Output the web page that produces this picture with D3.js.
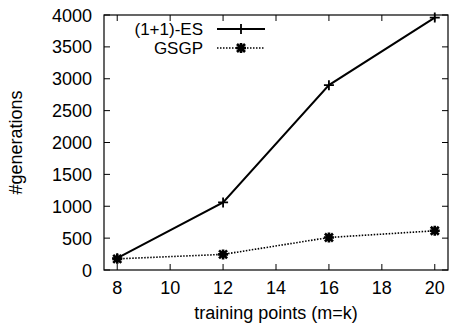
<!DOCTYPE html>
<html>
<head>
<meta charset="utf-8">
<script src="https://cdn.jsdelivr.net/npm/d3@7"></script>
<style>
  body { margin: 0; background: #fff; }
  text { font-family: "Liberation Sans", Arial, sans-serif; fill: #000; }
</style>
</head>
<body>
<svg id="chart" width="449" height="326"></svg>
<script>
// data
const trainingPoints = [8, 12, 16, 20];
const esGenerations = [185, 1060, 2900, 3960];
const gsgpGenerations = [175, 245, 510, 615];
const xTicks = [8, 10, 12, 14, 16, 18, 20];
const yTicks = [0, 500, 1000, 1500, 2000, 2500, 3000, 3500, 4000];

const plotL = 104, plotR = 448, plotT = 15, plotB = 270;
const fontSize = 18;

const svg = d3.select("#chart");

const x = d3.scaleLinear().domain([7.5, 20.5]).range([plotL, plotR]);
const y = d3.scaleLinear().domain([0, 4000]).range([plotB, plotT]);

// frame
svg.append("rect")
    .attr("x", plotL).attr("y", plotT)
    .attr("width", plotR - plotL).attr("height", plotB - plotT)
    .attr("fill", "none").attr("stroke", "#000").attr("stroke-width", 1.2);

// ticks, inward on all four sides
const tickLen = 6;
const ax = svg.append("g").attr("stroke", "#000").attr("stroke-width", 1);
xTicks.forEach(t => {
  ax.append("line").attr("x1", x(t)).attr("x2", x(t)).attr("y1", plotB).attr("y2", plotB - tickLen);
  ax.append("line").attr("x1", x(t)).attr("x2", x(t)).attr("y1", plotT).attr("y2", plotT + tickLen);
});
yTicks.forEach(t => {
  ax.append("line").attr("x1", plotL).attr("x2", plotL + tickLen).attr("y1", y(t)).attr("y2", y(t));
  ax.append("line").attr("x1", plotR).attr("x2", plotR - tickLen).attr("y1", y(t)).attr("y2", y(t));
});

// tick labels
svg.selectAll(".xl").data(xTicks).enter().append("text")
    .attr("x", d => x(d)).attr("y", plotB + 24)
    .attr("text-anchor", "middle").attr("font-size", fontSize)
    .text(d => d);
svg.selectAll(".yl").data(yTicks).enter().append("text")
    .attr("x", plotL - 12).attr("y", d => y(d) + 6.5)
    .attr("text-anchor", "end").attr("font-size", fontSize)
    .text(d => d);

// axis titles
svg.append("text")
    .attr("x", 276).attr("y", 319)
    .attr("text-anchor", "middle").attr("font-size", fontSize)
    .text("training points (m=k)");
svg.append("text")
    .attr("transform", "translate(22," + ((plotT + plotB) / 2) + ") rotate(-90)")
    .attr("text-anchor", "middle").attr("font-size", fontSize)
    .text("#generations");

// lines
const line = d3.line().x(d => x(d[0])).y(d => y(d[1]));
const esData = trainingPoints.map((t, i) => [t, esGenerations[i]]);
const gsgpData = trainingPoints.map((t, i) => [t, gsgpGenerations[i]]);

svg.append("path").datum(gsgpData).attr("d", line)
    .attr("fill", "none").attr("stroke", "#000").attr("stroke-width", 1.6)
    .attr("stroke-dasharray", "1.5,1.5");
svg.append("path").datum(esData).attr("d", line)
    .attr("fill", "none").attr("stroke", "#000").attr("stroke-width", 2);

function plus(g, cx, cy) {
  const s = 5;
  g.append("path").attr("d", `M${cx - s},${cy}H${cx + s}M${cx},${cy - s}V${cy + s}`)
      .attr("stroke", "#000").attr("stroke-width", 1.8);
}
function star(g, cx, cy) {
  const s = 5, d = 4;
  g.append("path")
      .attr("d", `M${cx - s},${cy}H${cx + s}M${cx},${cy - s}V${cy + s}` +
                 `M${cx - d},${cy - d}L${cx + d},${cy + d}M${cx - d},${cy + d}L${cx + d},${cy - d}`)
      .attr("stroke", "#000").attr("stroke-width", 2.6);
}

const marks = svg.append("g");
esData.forEach(d => plus(marks, x(d[0]), y(d[1])));
gsgpData.forEach(d => star(marks, x(d[0]), y(d[1])));

// legend
const lg = svg.append("g");
const legY = [29, 48];
const legFont = 17;
lg.append("text").attr("x", 203).attr("y", legY[0] + 6)
    .attr("text-anchor", "end").attr("font-size", legFont).text("(1+1)-ES");
lg.append("text").attr("x", 203).attr("y", legY[1] + 6)
    .attr("text-anchor", "end").attr("font-size", legFont).text("GSGP");
lg.append("line").attr("x1", 217).attr("x2", 265).attr("y1", legY[0]).attr("y2", legY[0])
    .attr("stroke", "#000").attr("stroke-width", 2);
plus(lg, 241, legY[0]);
lg.append("line").attr("x1", 217).attr("x2", 265).attr("y1", legY[1]).attr("y2", legY[1])
    .attr("stroke", "#000").attr("stroke-width", 1.6).attr("stroke-dasharray", "1.5,1.5");
star(lg, 241, legY[1]);
</script>
</body>
</html>
